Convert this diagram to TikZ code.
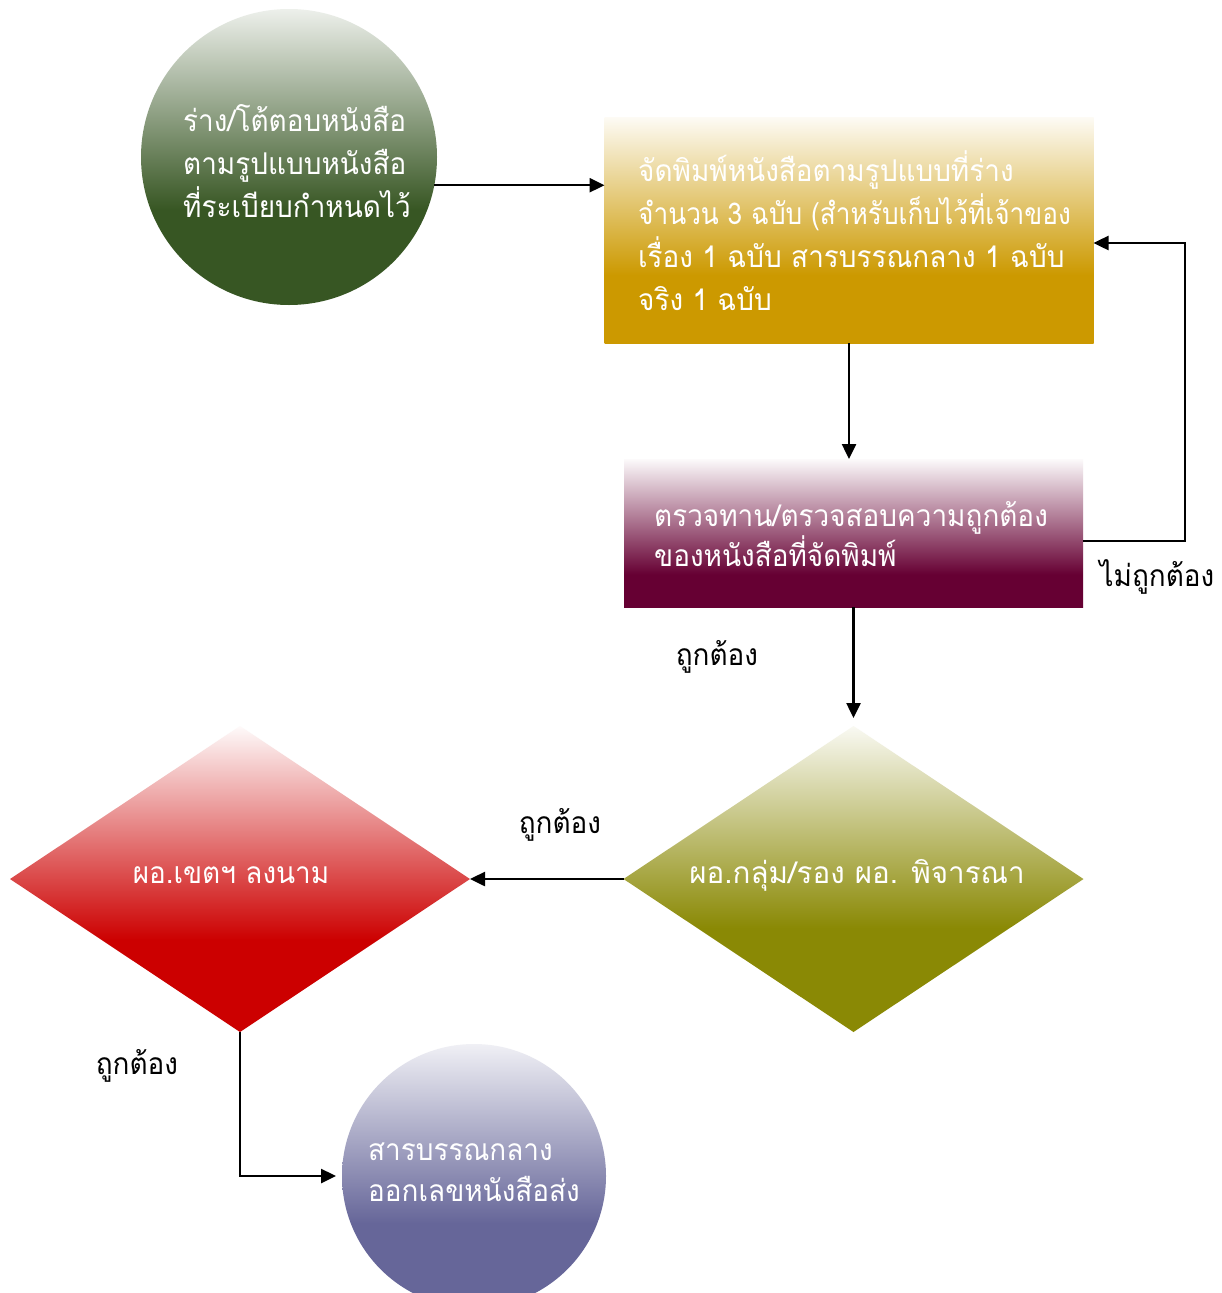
\documentclass[tikz,border=0pt]{standalone}
\usepackage{fontspec}
\usepackage{graphicx}
\newfontfamily\thai[Script=Thai,FakeStretch=0.93]{Loma}
\usetikzlibrary{shapes.geometric,arrows.meta}
\definecolor{cgreen}{RGB}{55,86,35}
\definecolor{cgold}{RGB}{204,153,0}
\definecolor{cmaroon}{RGB}{102,0,51}
\definecolor{cred}{RGB}{204,0,0}
\definecolor{colive}{RGB}{138,137,5}
\definecolor{cpurple}{RGB}{102,102,153}
\colorlet{cgreenT}{cgreen!9!white}
\colorlet{cgoldT}{cgold!4!white}
\colorlet{cmaroonT}{cmaroon!2!white}
\colorlet{credT}{cred!2!white}
\colorlet{coliveT}{colive!5!white}
\colorlet{cpurpleT}{cpurple!10!white}
\pgfdeclareverticalshading{shgreen}{100bp}{color(0bp)=(cgreen); color(41bp)=(cgreen); color(75bp)=(cgreenT); color(100bp)=(cgreenT)}
\pgfdeclareverticalshading{shgold}{100bp}{color(0bp)=(cgold); color(40bp)=(cgold); color(75bp)=(cgoldT); color(100bp)=(cgoldT)}
\pgfdeclareverticalshading{shmaroon}{100bp}{color(0bp)=(cmaroon); color(36bp)=(cmaroon); color(75bp)=(cmaroonT); color(100bp)=(cmaroonT)}
\pgfdeclareverticalshading{shred}{100bp}{color(0bp)=(cred); color(40bp)=(cred); color(75bp)=(credT); color(100bp)=(credT)}
\pgfdeclareverticalshading{sholive}{100bp}{color(0bp)=(colive); color(42bp)=(colive); color(75bp)=(coliveT); color(100bp)=(coliveT)}
\pgfdeclareverticalshading{shpurple}{100bp}{color(0bp)=(cpurple); color(41bp)=(cpurple); color(75bp)=(cpurpleT); color(100bp)=(cpurpleT)}
\begin{document}
\begin{tikzpicture}[x=1pt,y=-1pt,
  shp/.style={inner sep=0pt, outer sep=0pt},
  wtxt/.style={text=white, align=left, inner sep=0pt, font=\thai\fontsize{30}{#1}\selectfont},
  wtxt/.default=43,
  lbl/.style={text=black, inner sep=0pt, font=\thai\fontsize{30}{43}\selectfont},
  arr/.style={draw=black, line width=2.5pt, -{Triangle[length=15pt,width=14pt]}}]
\useasboundingbox (0,0) rectangle (1222,1293);
\clip (0,0) rectangle (1222,1293);
\fill[white] (0,0) rectangle (1222,1293);
% shapes
\node[shp, circle, minimum size=296pt, shading=shgreen] (c1) at (289,157) {};
\node[shp, rectangle, minimum width=489pt, minimum height=226pt, shading=shgold] (r1) at (849,230) {};
\node[shp, rectangle, minimum width=459pt, minimum height=148pt, shading=shmaroon] (r2) at (853.5,533) {};
\node[shp, diamond, minimum width=460pt, minimum height=306pt, shading=sholive] (d2) at (853.5,879) {};
\node[shp, diamond, minimum width=460pt, minimum height=306pt, shading=shred] (d1) at (240,879) {};
\node[shp, circle, minimum size=264pt, shading=shpurple] (c2) at (474,1176) {};
% texts
\node[wtxt=43, anchor=base west] (t1) at (183,217) {ร่าง/โต้ตอบหนังสือ\\ตามรูปแบบหนังสือ\\ที่ระเบียบกำหนดไว้};
\node[wtxt=42.7, anchor=base west] (t2) at (638,310) {จัดพิมพ์หนังสือตามรูปแบบที่ร่าง\\\scalebox{0.94}[1]{จำนวน 3 ฉบับ (สำหรับเก็บไว้ที่เจ้าของ}\\เรื่อง 1 ฉบับ สารบรรณกลาง 1 ฉบับ\\จริง 1 ฉบับ};
\node[wtxt=40, anchor=base west] (t3) at (654,566) {ตรวจทาน/ตรวจสอบความถูกต้อง\\ของหนังสือที่จัดพิมพ์};
\node[wtxt, anchor=base] (t4) at (857,883) {\scalebox{1.06}[1]{ผอ.กลุ่ม/รอง ผอ. พิจารณา}};
\node[wtxt, anchor=base] (t5) at (231,883) {ผอ.เขตฯ ลงนาม};
\node[wtxt=41, anchor=base west] (t6) at (368,1201) {สารบรรณกลาง\\ออกเลขหนังสือส่ง};
% connectors
\coordinate (lp1) at (1185,541);
\coordinate (lp2) at (1185,243);
\draw[arr] (c1.-11) -- (c1.-11 -| r1.west);
\draw[arr] (r1.south) -- (r1.south |- r2.north);
\draw[arr] (r2.east |- lp1) -- (lp1) -- (lp2) -- (r1.east |- lp2);
\draw[arr] (r2.south) -- ([yshift=8pt]d2.north);
\draw[arr] (d2.west) -- (d1.east);
\draw[arr] (d1.south) |- ([xshift=-6pt]c2.west);
% labels
\node[lbl, anchor=base] (l1) at (1157,586) {ไม่ถูกต้อง};
\node[lbl, anchor=base] (l2) at (717,665) {ถูกต้อง};
\node[lbl, anchor=base] (l3) at (560,833) {ถูกต้อง};
\node[lbl, anchor=base] (l4) at (137,1074) {ถูกต้อง};
\end{tikzpicture}
\end{document}
